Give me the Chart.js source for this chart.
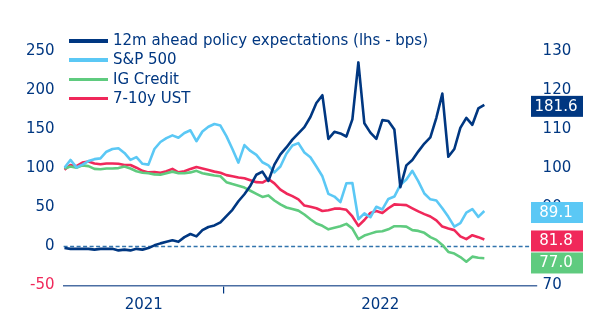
<!DOCTYPE html>
<html><head><meta charset="utf-8">
<script src="https://cdn.jsdelivr.net/npm/chart.js@4.4.1/dist/chart.umd.min.js"></script>
<style>
html,body{margin:0;padding:0;background:#fff;}
#wrap{position:relative;width:614px;height:324px;overflow:hidden;}
canvas{display:block;}
#legend{position:absolute;left:69px;top:31px;font-family:"DejaVu Sans";font-size:15px;color:#003781;}
.row{position:relative;height:19.3px;line-height:19.3px;white-space:nowrap;}
.sw{position:absolute;left:0;top:8px;width:39px;height:3.5px;}
.lbl{position:absolute;left:44px;top:0;}
</style></head>
<body>
<div id="wrap">
<canvas id="c" width="614" height="324"></canvas>
<div id="legend"></div>
</div>
<script>
// ---- data (weekly readings) ----
const dates = [
'2021-06-29','2021-07-06','2021-07-13','2021-07-20','2021-07-27','2021-08-03','2021-08-10','2021-08-17','2021-08-24','2021-08-31',
'2021-09-07','2021-09-14','2021-09-21','2021-09-28','2021-10-05','2021-10-12','2021-10-19','2021-10-26','2021-11-02','2021-11-09',
'2021-11-16','2021-11-23','2021-11-30','2021-12-07','2021-12-14','2021-12-21','2021-12-28',
'2022-01-04','2022-01-11','2022-01-18','2022-01-25','2022-02-01','2022-02-08','2022-02-15','2022-02-22','2022-03-01','2022-03-08',
'2022-03-15','2022-03-22','2022-03-29','2022-04-05','2022-04-12','2022-04-19','2022-04-26','2022-05-03','2022-05-10','2022-05-17',
'2022-05-24','2022-05-31','2022-06-07','2022-06-14','2022-06-21','2022-06-28','2022-07-05','2022-07-12','2022-07-19','2022-07-26',
'2022-08-02','2022-08-09','2022-08-16','2022-08-23','2022-08-30','2022-09-06','2022-09-13','2022-09-20','2022-09-27','2022-10-04',
'2022-10-11','2022-10-18','2022-10-25','2022-11-01'];

const policyBps = [
-2,-3,-3,-3,-3,-4,-3,-3,-3,-5,-4,-5,-3,-4,-2,
1.5,4,6,8,6,12,16,13,21,25,27,31,
39,47,58,67,78,92,96,84,105,118,127,137,145,153,
166,184,194,138,147,145,141,163,236,158,146,138,162,161,150,76,104,111,122,132,140,165,196,115,125,152,165,156,177,181.6];

const sp500 = [
100.2,102.2,100.3,101.0,101.9,102.4,102.6,104.3,105.0,105.2,104.0,102.2,102.9,101.2,101.0,
105.0,106.8,107.8,108.5,107.9,109.1,109.8,107.0,109.5,110.7,111.4,111.0,
108.3,105.0,101.5,106.0,104.5,103.5,101.6,100.8,99.0,100.5,103.8,105.9,106.5,104.1,
102.9,100.5,98.0,93.5,92.8,91.4,96.2,96.3,87.0,88.5,87.5,90.2,89.5,92.2,92.8,95.8,97.2,99.4,96.7,93.6,92.1,91.8,89.8,87.6,85.1,86.0,88.7,89.6,87.6,89.1];

const igCredit = [
100.0,100.5,100.2,100.8,100.6,99.9,99.8,100.0,100.0,100.1,100.5,100.0,99.3,98.9,98.8,
98.5,98.4,98.8,99.2,98.8,98.8,99.0,99.4,98.8,98.5,98.2,98.0,
96.5,96.0,95.6,95.1,94.3,93.5,92.7,93.1,91.8,90.8,90.0,89.6,89.2,88.2,
87.0,85.9,85.3,84.4,84.8,85.2,85.8,84.6,81.9,82.8,83.3,83.8,83.9,84.4,85.2,85.2,85.1,84.2,84.0,83.5,82.4,81.7,80.4,78.6,78.2,77.3,76.1,77.4,77.1,77.0];

const ust710 = [
99.7,100.9,100.6,101.5,101.8,101.3,101.1,101.3,101.3,101.2,100.9,100.9,100.2,99.4,99.0,
99.1,98.9,99.3,99.9,99.0,99.3,99.9,100.4,100.0,99.6,99.2,98.9,
98.3,98.0,97.7,97.5,97.0,96.5,96.4,97.3,96.2,94.6,93.6,92.9,92.1,90.5,
90.2,89.8,89.1,89.3,89.7,89.7,89.4,87.7,85.3,86.8,88.6,89.1,88.6,89.8,90.8,90.7,90.6,89.8,89.0,88.3,87.7,86.7,85.1,84.6,84.2,82.6,81.9,82.9,82.4,81.8];

const seriesNames = ['12m ahead policy expectations (lhs - bps)','S&P 500','IG Credit','7-10y UST'];
const yearLabels = ['2021','2022'];
const leftTicks = {min:-50, max:250, step:50};
const rightTicks = {min:70, max:130, step:10};
const axisStart = '2021-06-28', yearBreak = '2022-01-01', axisEnd = '2023-01-01';

// ---- styling ----
const NAVY='#003781', SKY='#5bc8f5', GREEN='#5fcb7f', RED='#f0285a';
const FONT='"DejaVu Sans"';

const dayOf = s => (Date.UTC(+s.slice(0,4), +s.slice(5,7)-1, +s.slice(8,10)) - Date.UTC(2021,0,1))/86400000;
const xs = dates.map(dayOf);
const pts = arr => arr.map((v,i)=>({x:xs[i], y:v}));
const xMin = dayOf(axisStart), xBrk = dayOf(yearBreak), xMax = dayOf(axisEnd);

// legend (HTML)
const legendColors=[NAVY,SKY,GREEN,RED];
document.getElementById('legend').innerHTML = seriesNames.map((n,i)=>
 `<div class="row"><span class="sw" style="background:${legendColors[i]}"></span><span class="lbl">${n.replace('&','&amp;')}</span></div>`).join('');

const zeroLine = {
  id:'zeroLine',
  beforeDatasetsDraw(chart){
    const {ctx, chartArea} = chart; const y = chart.scales.yL.getPixelForValue(0);
    ctx.save(); ctx.strokeStyle='#3274ad'; ctx.lineWidth=1.5; ctx.setLineDash([4,2.5]);
    ctx.beginPath(); ctx.moveTo(chartArea.left, y); ctx.lineTo(530, y); ctx.stroke(); ctx.restore();
  }
};
const endLabels = {
  id:'endLabels',
  afterDraw(chart){
    const ctx = chart.ctx;
    const items = chart.data.datasets.map(ds=>{
      const last = ds.data[ds.data.length-1];
      return {y: chart.scales[ds.yAxisID].getPixelForValue(last.y) + 1.5, text: last.y.toFixed(1), color: ds.borderColor};
    }).sort((a,b)=>a.y-b.y);
    const h=21; let prev=-1e9;
    ctx.save();
    ctx.font = '15px '+FONT; ctx.textAlign='center'; ctx.textBaseline='middle';
    items.forEach(it=>{
      let top = it.y - h/2; if (top < prev+1) top = prev+1; prev = top+h;
      ctx.fillStyle = it.color; ctx.fillRect(531, top, 52, h);
      ctx.fillStyle = '#fff'; ctx.fillText(it.text, 556, top+h/2+0.5);
    });
    ctx.restore();
  }
};

Chart.defaults.font.family = FONT;
Chart.defaults.font.size = 15;
Chart.defaults.color = NAVY;

new Chart(document.getElementById('c'), {
  type:'line',
  data:{ datasets:[
    {label:seriesNames[0], data:pts(policyBps), borderColor:NAVY, yAxisID:'yL'},
    {label:seriesNames[1], data:pts(sp500), borderColor:SKY, yAxisID:'yR'},
    {label:seriesNames[2], data:pts(igCredit), borderColor:GREEN, yAxisID:'yR'},
    {label:seriesNames[3], data:pts(ust710), borderColor:RED, yAxisID:'yR'}
  ]},
  options:{
    responsive:false, animation:false, devicePixelRatio:1,
    elements:{ line:{borderWidth:2.6, tension:0, borderJoinStyle:'round'}, point:{radius:0} },
    layout:{ padding:{top:51.5, left:0, right:0, bottom:0} },
    plugins:{ legend:{display:false}, tooltip:{enabled:false} },
    scales:{
      x:{ type:'linear', min:xMin, max:xMax,
        afterBuildTicks(s){ s.ticks=[{value:(xMin+xBrk)/2},{value:xBrk},{value:(xBrk+xMax)/2}]; },
        afterFit(s){ s.height = 38.5; },
        ticks:{ autoSkip:false, maxRotation:0, padding:3, color:NAVY,
          callback(v){ return v===xBrk ? '' : (v < xBrk ? yearLabels[0] : yearLabels[1]); } },
        grid:{ display:true, drawOnChartArea:false, drawTicks:true, tickLength:8, lineWidth:1.2,
          color:(c)=> c.tick && c.tick.value===xBrk ? NAVY : 'rgba(0,0,0,0)' },
        border:{ display:true, color:'#4b6ea3', width:1.5 }
      },
      yL:{ type:'linear', position:'left', min:leftTicks.min, max:leftTicks.max,
        afterFit(s){ s.width = 63.6; },
        ticks:{ stepSize:leftTicks.step, padding:9, color:(c)=> c.tick.value<0 ? RED : NAVY },
        grid:{ display:false, drawTicks:false }, border:{display:false}
      },
      yR:{ type:'linear', position:'right', min:rightTicks.min, max:rightTicks.max,
        afterFit(s){ s.width = 77.4; },
        ticks:{ stepSize:rightTicks.step, padding:6, color:NAVY },
        grid:{ display:false, drawTicks:false }, border:{display:false}
      }
    }
  },
  plugins:[zeroLine, endLabels]
});
</script>
</body></html>
